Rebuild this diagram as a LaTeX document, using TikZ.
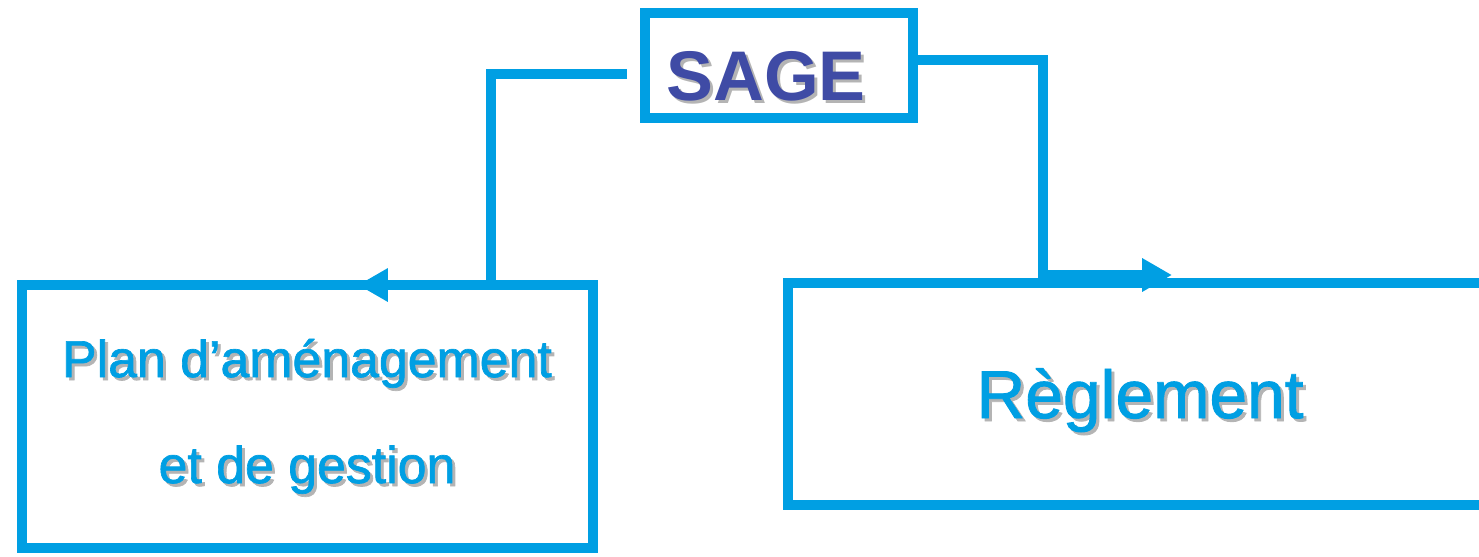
\documentclass[tikz,border=0pt]{standalone}
\usepackage{fontspec}
\setmainfont{Liberation Sans}
\newfontfamily\heavyfont[FakeBold=1.3]{Liberation Sans}
\usetikzlibrary{arrows.meta}
\definecolor{sageblue}{HTML}{009FE3}
\definecolor{sageink}{HTML}{3F4BA5}
\definecolor{sageshadow}{HTML}{B4B4B4}
\begin{document}
\begin{tikzpicture}[x=0.02cm,y=-0.02cm,
  box/.style={draw=sageblue, line width=5.7pt, inner sep=0pt},
  link/.style={draw=sageblue, line width=5.7pt},
  tip/.style={-{Triangle[length=17pt,width=18pt]}},
  label/.style={anchor=base, inner sep=0pt, text=sageblue},
  shade/.style={anchor=base, inner sep=0pt, text=sageshadow}]

\useasboundingbox (0,0) rectangle (1479,556);
\clip (0,0) rectangle (1479,556);

% boxes
\node[box, minimum width=5.36cm, minimum height=2.1cm] (sage) at (779,65.5) {};
\node[box, minimum width=11.42cm, minimum height=5.26cm] (plan) at (307.5,416.5) {};
\node[box, minimum width=15.44cm, minimum height=4.44cm] (regl) at (1174,394) {};

% texts with their shadows
\node[shade, font=\bfseries\fontsize{40}{40}\selectfont] (sageS) at (769,103) {SAGE};
\node[label, text=sageink, font=\bfseries\fontsize{40}{40}\selectfont] (sageT) at (766,100) {SAGE};
\node[shade, font=\heavyfont\fontsize{29.5}{30}\selectfont] (plan1S) at (310,380) {Plan d’aménagement};
\node[label, font=\heavyfont\fontsize{29.5}{30}\selectfont] (plan1T) at (307,377) {Plan d’aménagement};
\node[shade, font=\heavyfont\fontsize{29.5}{30}\selectfont] (plan2S) at (310,486) {et de gestion};
\node[label, font=\heavyfont\fontsize{29.5}{30}\selectfont] (plan2T) at (307,483) {et de gestion};
\node[shade, font=\heavyfont\fontsize{38.5}{39}\selectfont] (reglS) at (1143,421) {Règlement};
\node[label, font=\heavyfont\fontsize{38.5}{39}\selectfont] (reglT) at (1140,418) {Règlement};

% connectors
\coordinate (lbend) at (491,285);
\coordinate (ltip) at (358,285);
\coordinate (rbend) at (1043,275);
\coordinate (rtip) at (1172,275);
\draw[link] ([xshift=-13*0.02cm, yshift=-8.5*0.02cm]sage.west) -| (lbend);
\draw[link, tip] (lbend) -- (ltip);
\draw[link] ([yshift=5.5*0.02cm]sage.east) -| (rbend);
\draw[link, tip] ([xshift=-2.8pt]rbend) -- (rtip);

\end{tikzpicture}
\end{document}
